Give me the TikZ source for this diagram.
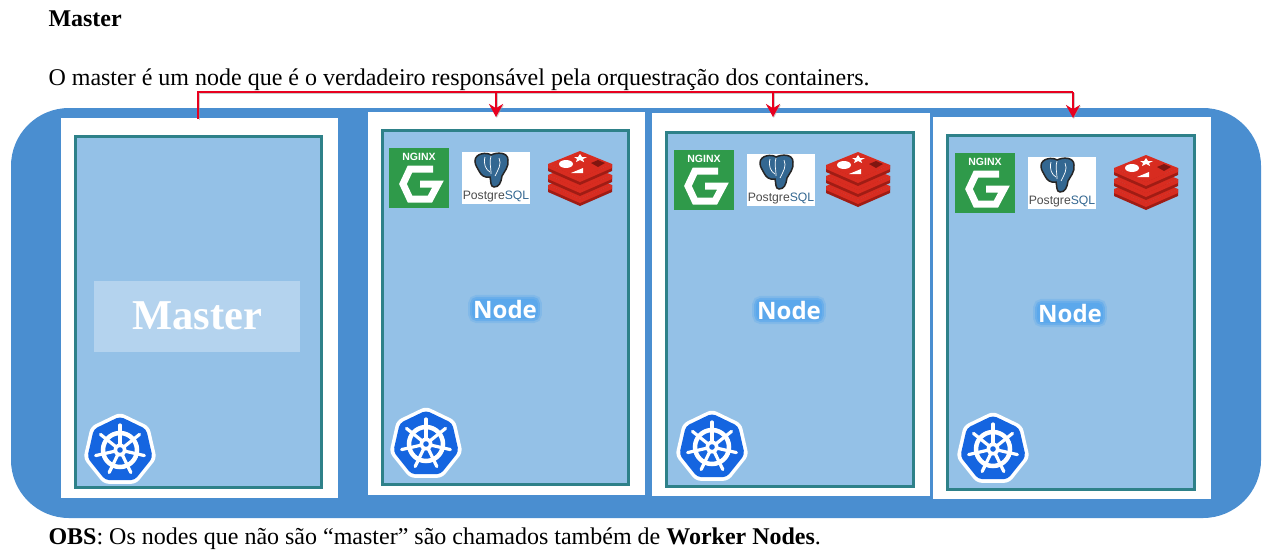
\documentclass[tikz,border=0pt]{standalone}
\usepackage{fontspec}
\setmainfont{Liberation Serif}
\setsansfont{Liberation Sans}
\newfontfamily\labelfont{Open Sans}
\usetikzlibrary{arrows.meta}

\definecolor{backblue}{HTML}{4A8ED0}
\definecolor{panelblue}{HTML}{94C1E7}
\definecolor{panelteal}{HTML}{2E8189}
\definecolor{glowblue}{HTML}{5BA8EC}
\definecolor{wirered}{HTML}{E8001F}
\definecolor{nginxgreen}{HTML}{2F9A4A}
\definecolor{pgblue}{HTML}{336791}
\definecolor{redisred}{HTML}{D82C20}
\definecolor{redisdark}{HTML}{A01C14}
\definecolor{kubeblue}{HTML}{1565E0}

\tikzset{
    every node/.style={outer sep=0pt, inner sep=0pt},
    bodytext/.style={anchor=base west, font=\fontsize{24}{24}\selectfont},
    whitebox/.style={fill=white, anchor=north west},
    panelbox/.style={fill=panelblue, draw=panelteal, line width=3pt, anchor=north west},
    nodelabel/.style={fill=glowblue, rounded corners=5pt,
        preaction={draw=glowblue, line width=8pt, opacity=.3},
        preaction={draw=glowblue, line width=4pt, opacity=.6},
        text=white, inner xsep=1pt, inner ysep=1pt, font=\labelfont\bfseries\fontsize{24}{24}\selectfont},
    wire/.style={draw=wirered, line width=2.8pt,
        preaction={draw=black!40, opacity=.5, transform canvas={shift={(.8pt,-1pt)}}}},
    wirearrow/.style={wire, -{Stealth[length=13pt,width=14pt]}}
}

% NGINX logo, top left corner at #1,#2
\newcommand{\nginxicon}[2]{
    \begin{scope}[shift={(#1,#2)}]
        \fill[nginxgreen] (0,0) rectangle (60,60);
        \node[text=white, font=\sffamily\bfseries\fontsize{10.5}{10.5}\selectfont] at (30,9) {NGINX};
        \draw[white, line width=7pt, line join=miter]
            (44,21) -- (21,21) -- (14,36) -- (21,51) -- (41,51) -- (49,36) -- (31,36);
    \end{scope}
}

% PostgreSQL logo, top left corner at #1,#2
\newcommand{\postgresicon}[2]{
    \begin{scope}[shift={(#1,#2)}]
        \fill[white] (0,0) rectangle (68,52);
        \draw[black!85, fill=pgblue, line width=1.5pt]
            (13,9) .. controls (13,1) and (25,0) .. (29,3)
            .. controls (35,0) and (46,0) .. (46,8)
            .. controls (47,15) and (42,20) .. (40,24)
            .. controls (39,31) and (37,35) .. (32,35)
            .. controls (28,35) and (29,28) .. (28,25)
            .. controls (22,26) and (19,23) .. (17,19)
            .. controls (15,15) and (13,13) .. (13,9) -- cycle;
        \draw[white, line width=.7pt] (23,5) .. controls (21,12) and (24,18) .. (28,20);
        \draw[white, line width=.7pt] (29,4) .. controls (27,10) and (29,14) .. (29,22);
        \draw[white, line width=.7pt] (37,6) .. controls (40,12) and (36,18) .. (33,24);
        \node[anchor=base, font=\sffamily\fontsize{12.2}{12.2}\selectfont] at (34,47)
            {\textcolor{black!70}{Postgre}\textcolor{pgblue}{SQL}};
    \end{scope}
}

% one layer of the Redis logo
\newcommand{\redislayer}[1]{
    \fill[redisdark] (0,{#1+13}) -- (32,{#1+27}) -- (64,{#1+13}) -- (64,{#1+20}) -- (32,{#1+34}) -- (0,{#1+20}) -- cycle;
    \fill[redisred] (0,{#1+13}) -- (32,{#1+27}) -- (64,{#1+13}) -- (64,{#1+17}) -- (32,{#1+31}) -- (0,{#1+17}) -- cycle;
    \fill[redisred] (0,{#1+13}) -- (32,#1) -- (64,{#1+13}) -- (32,{#1+27}) -- cycle;
}

% Redis logo, top left corner at #1,#2
\newcommand{\redisicon}[2]{
    \begin{scope}[shift={(#1,#2)}]
        \redislayer{21}
        \redislayer{11}
        \redislayer{0}
        \fill[white] (26,6) -- (30,6) -- (32,3) -- (34,6) -- (39,6) -- (35,8) -- (36,11) -- (32,9) -- (28,11) -- (29,8) -- cycle;
        \fill[white] (18,13) ellipse (7 and 4);
        \fill[white] (23,22) -- (35,17) -- (35,22) -- cycle;
        \fill[redisdark!80!black] (43,12) -- (50,9) -- (57,12) -- (50,16) -- cycle;
    \end{scope}
}

% Kubernetes logo, centre at #1,#2
\newcommand{\kubeicon}[2]{
    \begin{scope}[shift={(#1,#2)}]
        \fill[white, rounded corners=5pt] (-90:37.5) -- (-38.6:37.5) -- (12.9:37.5) -- (64.3:37.5) -- (115.7:37.5) -- (167.1:37.5) -- (218.6:37.5) -- cycle;
        \fill[kubeblue, rounded corners=4pt] (-90:33.5) -- (-38.6:33.5) -- (12.9:33.5) -- (64.3:33.5) -- (115.7:33.5) -- (167.1:33.5) -- (218.6:33.5) -- cycle;
        \draw[white, line width=4.5pt] (0,0) circle (17);
        \foreach \a in {-90,-38.6,12.9,64.3,115.7,167.1,218.6}
            \draw[white, line width=3.2pt, line cap=round] (0,0) -- (\a:25);
        \fill[white] (0,0) circle (6.5);
        \fill[kubeblue] (0,0) circle (2.8);
    \end{scope}
}

\begin{document}
\begin{tikzpicture}[x=1pt, y=-1pt]
    \useasboundingbox (0,0) rectangle (1266,552);
    \fill[white] (0,0) rectangle (1266,552);

    % Text around the figure
    \node[bodytext, font=\bfseries\fontsize{24}{24}\selectfont] (title) at (48.5,26) {Master};
    \node[bodytext] (intro) at (48.5,85) {O master é um node que é o verdadeiro responsável pela orquestração dos containers.};
    \node[bodytext] (remark) at (48.5,544) {\textbf{OBS}: Os nodes que não são “master” são chamados também de \textbf{Worker Nodes}.};

    % Blue background
    \fill[backblue, rounded corners=58pt] (11,108) rectangle (1261,518);

    % Master
    \node[whitebox, minimum width=277pt, minimum height=380pt] (masterbox) at (61,118) {};
    \node[panelbox, minimum width=246pt, minimum height=351pt] (masterpanel) at (75.5,136.5) {};
    \node[fill=white, fill opacity=.3, minimum width=206pt, minimum height=71pt] (mastertag) at (197,316.5) {};
    \node[text=white, font=\bfseries\fontsize{42.5}{42.5}\selectfont] (masterlabel) at (197.5,316) {Master};
    \kubeicon{120}{450}

    % First node
    \node[whitebox, minimum width=277pt, minimum height=383pt] (boxa) at (368,112) {};
    \node[panelbox, minimum width=246pt, minimum height=354pt] (panela) at (382.5,130.5) {};
    \node[nodelabel] (labela) at (505,309) {Node};
    \nginxicon{389}{148}
    \postgresicon{462}{152}
    \redisicon{548}{151}
    \kubeicon{426}{444}

    % Second node
    \node[whitebox, minimum width=278pt, minimum height=383pt] (boxb) at (652,113) {};
    \node[panelbox, minimum width=247pt, minimum height=354pt] (panelb) at (666.5,132.5) {};
    \node[nodelabel] (labelb) at (789,310) {Node};
    \nginxicon{674}{150}
    \postgresicon{747}{154}
    \redisicon{826}{152}
    \kubeicon{712}{447}

    % Third node
    \node[whitebox, minimum width=278pt, minimum height=382pt] (boxc) at (933,117) {};
    \node[panelbox, minimum width=247pt, minimum height=354pt] (panelc) at (947.5,135.5) {};
    \node[nodelabel] (labelc) at (1070,313) {Node};
    \nginxicon{955}{153}
    \postgresicon{1028}{157}
    \redisicon{1114}{155}
    \kubeicon{993}{449}

    % Red connector
    \coordinate (wirestart) at (198,119);
    \coordinate (wirecorner) at (198,92);
    \coordinate (tapa) at (496,92);
    \coordinate (tipa) at (496,117);
    \coordinate (tapb) at (773,92);
    \coordinate (tipb) at (773,117);
    \coordinate (tapc) at (1073,92);
    \coordinate (tipc) at (1073,118);
    \draw[wire] (wirestart) -- (wirecorner) -- (tapc);
    \draw[wirearrow] (tapa) -- (tipa);
    \draw[wirearrow] (tapb) -- (tipb);
    \draw[wirearrow] (tapc) -- (tipc);
\end{tikzpicture}
\end{document}
